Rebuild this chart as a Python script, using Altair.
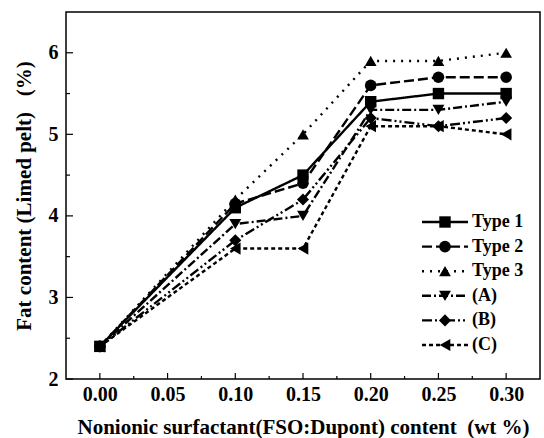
import altair as alt
import pandas as pd

# ---- data ----
x_vals = [0.00, 0.10, 0.15, 0.20, 0.25, 0.30]
series = ["Type 1", "Type 2", "Type 3", "(A)", "(B)", "(C)"]
type1 = [2.4, 4.10, 4.5, 5.4, 5.5, 5.5]
type2 = [2.4, 4.15, 4.4, 5.6, 5.7, 5.7]
type3 = [2.4, 4.20, 5.0, 5.9, 5.9, 6.0]
ser_a = [2.4, 3.90, 4.0, 5.3, 5.3, 5.4]
ser_b = [2.4, 3.70, 4.2, 5.2, 5.1, 5.2]
ser_c = [2.4, 3.60, 3.6, 5.1, 5.1, 5.0]
values = [type1, type2, type3, ser_a, ser_b, ser_c]

x_ticks = [0.00, 0.05, 0.10, 0.15, 0.20, 0.25, 0.30]
x_minor = [0.025, 0.075, 0.125, 0.175, 0.225, 0.275]
y_ticks = [2, 3, 4, 5, 6]
y_minor = [2.5, 3.5, 4.5, 5.5]

# ---- styles ----
dashes = [[1, 0], [10, 4], [2, 6], [9, 3, 2, 3], [10, 3, 2, 3, 2, 3], [4, 3]]
shapes = ["square", "circle", "triangle-up", "triangle-down", "diamond", "triangle-left"]
sizes = [130, 150, 210, 210, 190, 210]
leg_sizes = [100, 115, 160, 160, 150, 160]
W, H = 474, 367
FONT = "Liberation Serif"

rows = []
for s, vals in zip(series, values):
    for x, v in zip(x_vals, vals):
        rows.append({"series": s, "x": x, "y": v})
df = pd.DataFrame(rows)

xs = alt.Scale(domain=[-0.025, 0.325], nice=False, zero=False)
ys = alt.Scale(domain=[2, 6.5], nice=False, zero=False)
dash_scale = alt.Scale(domain=series, range=dashes)
shape_scale = alt.Scale(domain=series, range=shapes)

x_enc = alt.X("x:Q", scale=xs, axis=alt.Axis(
    values=x_ticks, format=".2f", domain=False, ticks=False, grid=False,
    labelPadding=5, titlePadding=12,
    title="Nonionic surfactant(FSO:Dupont) content\u00a0\u00a0(wt %)"))
y_enc = alt.Y("y:Q", scale=ys, axis=alt.Axis(
    values=y_ticks, format="d", domain=False, ticks=False, grid=False,
    labelPadding=8, titlePadding=14,
    title="Fat content (Limed pelt)\u00a0\u00a0\u00a0(%)"))

lines = alt.Chart(df).mark_line(color="black", strokeWidth=2.4).encode(
    x=x_enc, y=y_enc,
    strokeDash=alt.StrokeDash("series:N", scale=dash_scale, legend=None),
    detail="series:N",
)
points = alt.Chart(df).mark_point(filled=True, color="black", opacity=1).encode(
    x=alt.X("x:Q", scale=xs), y=alt.Y("y:Q", scale=ys),
    shape=alt.Shape("series:N", scale=shape_scale, legend=None),
    size=alt.Size("series:N", scale=alt.Scale(domain=series, range=sizes), legend=None),
)

# inward ticks
xt_major = alt.Chart(pd.DataFrame({"x": x_ticks})).mark_rule(color="black", strokeWidth=1.2).encode(
    x=alt.X("x:Q", scale=xs), y=alt.value(H), y2=alt.value(H - 6))
xt_minor = alt.Chart(pd.DataFrame({"x": x_minor})).mark_rule(color="black", strokeWidth=1.2).encode(
    x=alt.X("x:Q", scale=xs), y=alt.value(H), y2=alt.value(H - 3))
yt_major = alt.Chart(pd.DataFrame({"y": y_ticks})).mark_rule(color="black", strokeWidth=1.2).encode(
    y=alt.Y("y:Q", scale=ys), x=alt.value(0), x2=alt.value(7))
yt_minor = alt.Chart(pd.DataFrame({"y": y_minor})).mark_rule(color="black", strokeWidth=1.2).encode(
    y=alt.Y("y:Q", scale=ys), x=alt.value(0), x2=alt.value(4))

main = alt.layer(lines, points, xt_major, xt_minor, yt_major, yt_minor)

# custom legend
leg_df = pd.DataFrame({"series": series, "row": list(range(len(series)))})
ly = alt.Y("row:Q", scale=alt.Scale(domain=[0, 5], range=[210, 333]), axis=None)
leg_line = alt.Chart(leg_df).mark_rule(color="black", strokeWidth=2.4).encode(
    x=alt.value(356), x2=alt.value(402), y=ly,
    strokeDash=alt.StrokeDash("series:N", scale=dash_scale, legend=None))
leg_pt = alt.Chart(leg_df).mark_point(filled=True, color="black", opacity=1).encode(
    x=alt.value(379), y=ly,
    shape=alt.Shape("series:N", scale=shape_scale, legend=None),
    size=alt.Size("series:N", scale=alt.Scale(domain=series, range=leg_sizes), legend=None))
leg_txt = alt.Chart(leg_df).mark_text(
    align="left", baseline="middle", font=FONT, fontSize=18, fontWeight="bold", color="black"
).encode(x=alt.value(406), y=ly, text="series:N")
legend = alt.layer(leg_line, leg_pt, leg_txt)

chart = alt.layer(main, legend).resolve_scale(y="independent").properties(
    width=W, height=H,
    autosize="none",
    padding={"left": 66, "top": 12, "right": 4, "bottom": 59},
    background="white",
).configure_view(stroke="black", strokeWidth=1.5).configure_axis(
    labelFont=FONT, labelFontSize=20, labelFontWeight="bold", labelColor="black",
    titleFont=FONT, titleFontSize=21, titleFontWeight="bold", titleColor="black",
)

chart.save("out.html", embed_options={"renderer": "svg", "actions": False})
